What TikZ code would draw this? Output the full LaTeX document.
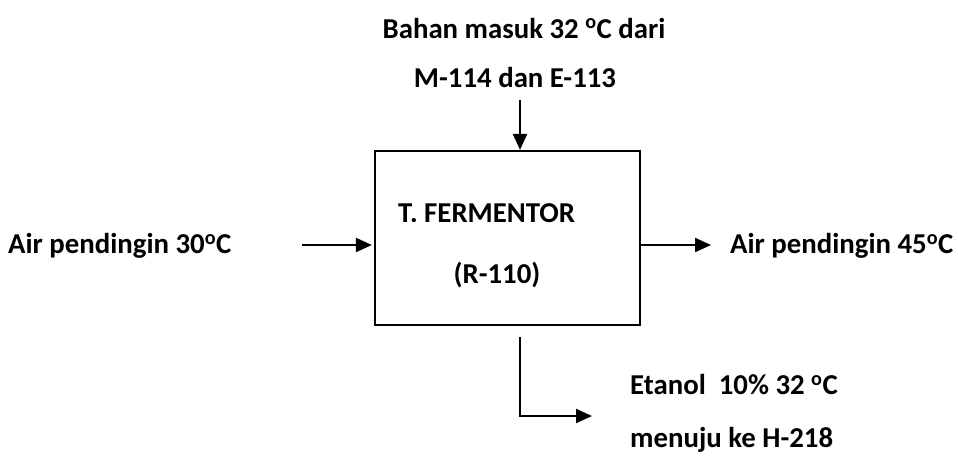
\documentclass[tikz,border=0pt]{standalone}
\usepackage{fontspec}
\setmainfont{Carlito}
\usetikzlibrary{arrows.meta}
\tikzset{
  lbl/.style={font=\fontsize{28.8}{32}\selectfont\bfseries, inner sep=0pt},
  arr/.style={line width=2.2pt, -{Triangle[length=16pt,width=14pt]}},
  unit/.style={draw, line width=2.2pt, minimum width=265pt, minimum height=174pt, inner sep=0pt}
}
\newcommand{\degC}{\textsuperscript{o}C}
\begin{document}
\begin{tikzpicture}[x=1pt,y=-1pt]
\useasboundingbox (0,0) rectangle (958,461);
\node[unit] (box) at (507.5,238) {};
\node[lbl] (t1) at (524,28) {Bahan masuk 32 \degC{} dari};
\node[lbl] (t2) at (515,77) {M-114 dan E-113};
\node[lbl, anchor=west] (name) at (398,213) {T. FERMENTOR};
\node[lbl] (code) at (497,275) {(R-110)};
\node[lbl, anchor=west] (lin) at (8,246) {Air pendingin 30\degC};
\node[lbl, anchor=west] (rout) at (730,246) {Air pendingin 45\degC};
\node[lbl, anchor=west] (e1) at (630,385) {Etanol~ 10\% 32 \degC};
\node[lbl, anchor=west] (e2) at (630,440) {menuju ke H-218};
\coordinate (tin) at (520,100);
\coordinate (lst) at (302,245);
\coordinate (rend) at (711,245);
\coordinate (bs) at (520,337);
\coordinate (be) at (592,416);
\draw[arr] (tin) -- (tin |- box.north);
\draw[arr] (lst) -- ([xshift=-2pt]lst -| box.west);
\draw[arr] (rend -| box.east) -- (rend);
\draw[arr] (bs) -- (bs |- be) -- (be);
\end{tikzpicture}
\end{document}
